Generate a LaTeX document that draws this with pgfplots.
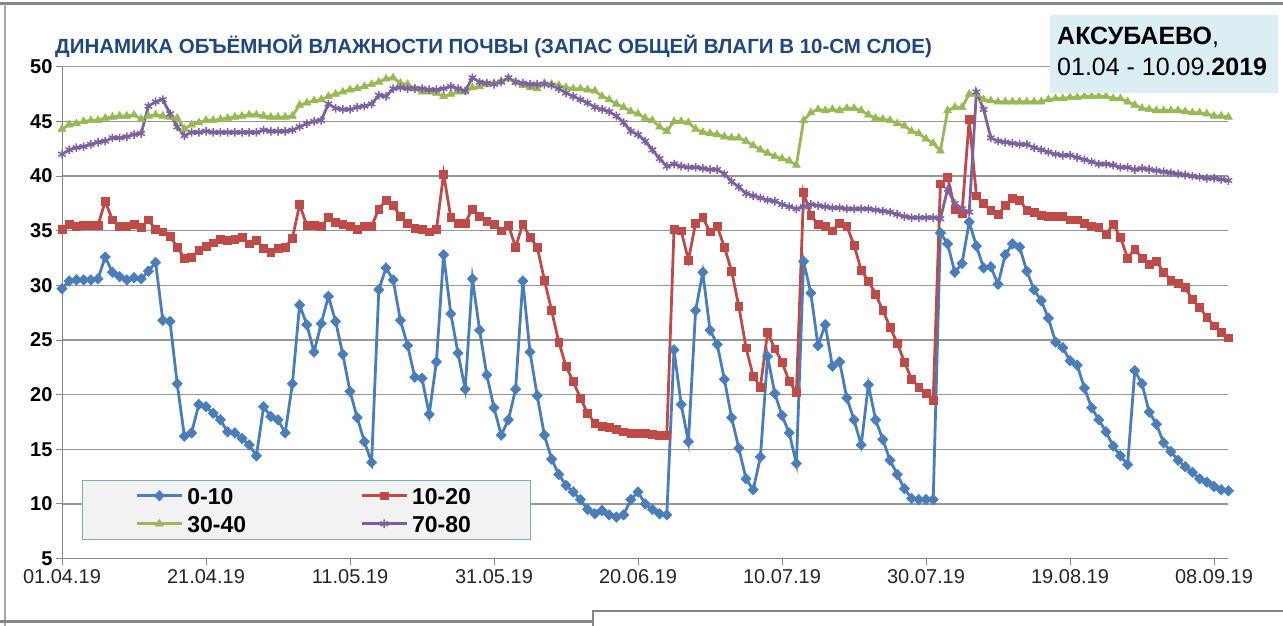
\documentclass[border=0pt]{standalone}
\usepackage{pgfplots}
\pgfplotsset{compat=1.18}
\usepackage{pgfplotstable}
\usepackage{fontspec}
\setmainfont{Liberation Sans}
\definecolor{cblue}{RGB}{74,126,187}
\definecolor{cred}{RGB}{190,75,72}
\definecolor{cgreen}{RGB}{152,185,84}
\definecolor{cpurple}{RGB}{125,96,160}
\definecolor{axgray}{RGB}{134,134,134}
\definecolor{gridgray}{RGB}{150,150,150}
\definecolor{titleblue}{RGB}{31,73,125}
\definecolor{boxblue}{RGB}{218,238,243}
\definecolor{legfill}{RGB}{242,242,242}
\definecolor{legdraw}{RGB}{120,175,192}

\pgfplotstableread{
d s1 s2 s3 s4
0 29.7 35.1 44.3 42.0
1 30.4 35.6 44.7 42.4
2 30.5 35.4 44.8 42.6
3 30.5 35.5 45.0 42.7
4 30.5 35.5 45.1 42.9
5 30.6 35.5 45.1 43.1
6 32.6 37.7 45.3 43.2
7 31.2 36.0 45.4 43.5
8 30.8 35.4 45.5 43.5
9 30.5 35.4 45.5 43.6
10 30.7 35.6 45.6 43.8
11 30.6 35.3 45.2 43.9
12 31.3 36.0 45.5 46.4
13 32.1 35.1 45.6 46.8
14 26.8 34.9 45.5 47.0
15 26.7 34.5 45.4 45.7
16 21.0 33.5 45.3 44.5
17 16.2 32.5 44.3 43.7
18 16.5 32.6 44.7 44.0
19 19.1 33.2 44.9 44.0
20 18.9 33.6 45.1 44.1
21 18.3 33.9 45.1 44.0
22 17.7 34.2 45.2 44.0
23 16.6 34.1 45.3 44.0
24 16.5 34.2 45.4 44.0
25 16.0 34.4 45.5 44.0
26 15.4 33.8 45.6 44.0
27 14.4 34.1 45.6 44.0
28 18.9 33.4 45.5 44.2
29 18.0 33.0 45.4 44.1
30 17.7 33.4 45.4 44.1
31 16.5 33.5 45.4 44.1
32 21.0 34.3 45.5 44.2
33 28.2 37.4 46.5 44.5
34 26.4 35.5 46.7 44.8
35 23.9 35.5 46.9 45.0
36 26.5 35.4 47.0 45.1
37 29.0 36.2 47.3 46.6
38 26.7 35.8 47.5 46.2
39 23.7 35.6 47.7 46.1
40 20.3 35.4 47.9 46.1
41 17.9 35.1 48.0 46.3
42 15.7 35.4 48.2 46.4
43 13.8 35.4 48.4 46.6
44 29.6 37.0 48.6 47.4
45 31.6 37.8 48.9 47.3
46 30.5 37.3 49.0 48.0
47 26.8 36.3 48.5 48.1
48 24.5 35.7 48.4 48.0
49 21.6 35.2 48.0 48.0
50 21.5 35.1 47.7 48.0
51 18.2 34.9 47.7 47.9
52 23.0 35.1 47.6 47.9
53 32.8 40.2 47.3 48.0
54 27.4 36.2 47.5 48.2
55 23.8 35.7 47.7 48.0
56 20.5 35.7 47.7 47.8
57 30.6 37.0 48.1 49.0
58 25.9 36.3 48.2 48.6
59 21.8 35.9 48.4 48.5
60 18.8 35.6 48.5 48.4
61 16.3 35.0 48.7 48.6
62 17.7 35.5 48.9 49.0
63 20.5 33.5 48.6 48.6
64 30.4 35.6 48.3 48.5
65 23.9 34.4 48.1 48.4
66 19.9 33.5 48.0 48.4
67 16.3 30.5 48.5 48.4
68 14.1 27.7 48.4 48.3
69 12.7 24.8 48.3 48.0
70 11.7 22.6 48.1 47.6
71 11.1 21.2 48.0 47.3
72 10.4 19.7 48.0 47.0
73 9.5 18.3 47.9 46.7
74 9.1 17.4 47.8 46.3
75 9.4 17.1 47.3 46.1
76 9.0 17.0 47.0 45.9
77 8.8 16.8 46.6 45.5
78 9.0 16.6 46.3 44.9
79 10.4 16.5 45.9 44.1
80 11.1 16.5 45.7 43.8
81 10.0 16.5 45.3 43.2
82 9.5 16.4 45.1 42.4
83 9.1 16.3 44.5 41.6
84 9.0 16.3 44.1 40.9
85 24.1 35.1 45.0 41.1
86 19.1 35.0 45.0 40.9
87 15.7 32.3 44.9 40.8
88 27.7 35.7 44.3 40.8
89 31.2 36.2 44.0 40.7
90 25.9 34.9 43.9 40.6
91 24.6 35.4 43.8 40.6
92 21.4 33.5 43.6 40.2
93 17.9 31.3 43.5 39.5
94 15.1 28.1 43.5 39.0
95 12.3 24.3 43.2 38.4
96 11.3 21.7 42.8 38.2
97 14.3 20.7 42.4 38.0
98 23.5 25.7 42.1 37.8
99 20.1 24.2 41.8 37.7
100 18.1 23.0 41.6 37.4
101 16.5 21.2 41.4 37.2
102 13.7 20.2 41.0 37.0
103 32.2 38.5 45.1 37.2
104 29.3 36.4 45.8 37.4
105 24.5 35.6 46.1 37.3
106 26.4 35.4 46.0 37.2
107 22.6 35.0 46.1 37.1
108 23.0 35.7 46.0 37.1
109 19.7 35.4 46.2 37.0
110 17.7 33.7 46.2 37.0
111 15.4 31.4 46.0 37.0
112 20.9 30.4 45.6 37.0
113 17.7 29.2 45.3 36.9
114 15.9 27.7 45.2 36.8
115 14.0 26.2 45.1 36.7
116 12.7 24.7 44.8 36.5
117 11.4 23.0 44.6 36.3
118 10.5 21.4 44.1 36.2
119 10.4 20.7 43.9 36.2
120 10.4 20.1 43.4 36.2
121 10.4 19.5 43.0 36.2
122 34.8 39.3 42.3 36.1
123 33.8 39.9 46.0 38.8
124 31.2 37.0 46.3 37.5
125 32.0 36.6 46.3 37.0
126 35.8 45.2 47.5 36.7
127 33.6 38.2 47.5 47.7
128 31.6 37.5 47.0 46.1
129 31.7 36.9 46.9 43.5
130 30.1 36.5 46.8 43.2
131 32.8 37.3 46.8 43.1
132 33.8 38.0 46.8 43.0
133 33.5 37.8 46.8 42.9
134 31.3 36.9 46.8 42.9
135 29.6 36.7 46.8 42.6
136 28.6 36.4 46.8 42.4
137 27.0 36.3 47.0 42.2
138 24.8 36.3 47.1 42.0
139 24.3 36.3 47.1 41.9
140 23.1 36.0 47.2 41.9
141 22.7 36.0 47.2 41.7
142 20.6 35.7 47.3 41.5
143 18.8 35.4 47.3 41.3
144 17.7 35.3 47.3 41.1
145 16.6 34.7 47.3 41.1
146 15.3 35.6 47.1 41.0
147 14.4 34.4 47.1 40.8
148 13.6 32.5 46.8 40.8
149 22.2 33.3 46.5 40.6
150 21.0 32.5 46.2 40.7
151 18.4 31.9 46.1 40.6
152 17.3 32.2 46.0 40.5
153 15.6 31.2 46.0 40.4
154 14.8 30.5 46.0 40.3
155 14.0 30.2 46.0 40.2
156 13.4 29.8 45.9 40.1
157 12.9 28.7 45.8 40.0
158 12.3 28.0 45.8 39.9
159 12.0 27.1 45.7 39.8
160 11.6 26.3 45.5 39.8
161 11.3 25.7 45.5 39.7
162 11.2 25.2 45.4 39.6
}\soildata

\begin{document}
\begin{tikzpicture}
\useasboundingbox (0pt,0pt) rectangle (1283pt,626pt);
\fill[white] (0pt,0pt) rectangle (1283pt,626pt);
% outer frame
\draw[draw=axgray, line width=3pt] (0pt,622pt) -- (1283pt,622pt);
\draw[draw=axgray!70, line width=1.2pt] (5pt,0pt) -- (5pt,622pt);
\draw[draw=axgray, line width=3pt] (0pt,4pt) -- (593pt,4pt);
\draw[draw=axgray, line width=1.2pt] (593pt,-5pt) rectangle (1290pt,15pt);

\begin{axis}[
  scale only axis,
  width=1166.4pt, height=491.8pt,
  at={(62pt,67.4pt)}, anchor=south west,
  xmin=0, xmax=162, ymin=5, ymax=50,
  axis x line*=bottom, axis y line*=left,
  axis line style={draw=axgray, line width=1pt},
  xtick={0,20,...,160},
  xticklabels={01.04.19,21.04.19,11.05.19,31.05.19,20.06.19,10.07.19,30.07.19,19.08.19,08.09.19},
  ytick={5,10,...,50},
  ymajorgrids,
  grid style={draw=gridgray, line width=1.2pt},
  tick style={draw=axgray, line width=1pt},
  major tick length=6pt,
  tick align=outside,
  /pgf/number format/assume math mode=true,
  xticklabel style={font=\fontsize{20}{20}\selectfont, text=black!85, yshift=-1.5pt},
  yticklabel style={font=\fontsize{20}{20}\selectfont\bfseries, text=black},
  legend columns=2,
  legend cell align=left,
  legend style={
    at={(0.01715,0.0378)}, anchor=south west,
    fill=legfill, draw=legdraw, line width=1pt,
    font=\fontsize{23}{23}\selectfont\bfseries,
    inner xsep=53pt, inner ysep=5.5pt,
    row sep=7.5pt,
    nodes={inner xsep=2pt, inner ysep=2pt, text height=16.5pt, text depth=0pt, text width=63pt},
    /tikz/every odd column/.append style={column sep=2pt},
    /tikz/every even column/.append style={column sep=108pt},
  },
  legend image code/.code={
    \draw[mark repeat=2,mark phase=2,#1] plot coordinates {(0pt,0pt) (22.5pt,0pt) (45pt,0pt)};
  },
]
\addplot[cblue, line width=2.8pt, mark=diamond*, mark size=5.3pt,
  mark options={solid, fill=cblue, line width=0.5pt, xscale=1.3}]
  table[x=d, y=s1] {\soildata};
\addlegendentry{0-10}
\addplot[cred, line width=2.8pt, mark=square*, mark size=3.9pt,
  mark options={solid, fill=cred, line width=0.5pt}]
  table[x=d, y=s2] {\soildata};
\addlegendentry{10-20}
\addplot[cgreen, line width=2.8pt, mark=triangle*, mark size=4.6pt,
  mark options={solid, fill=cgreen, line width=0.5pt}]
  table[x=d, y=s3] {\soildata};
\addlegendentry{30-40}
\addplot[cpurple, line width=2.8pt, mark=asterisk, mark size=4.3pt,
  mark options={solid, line width=1.5pt}]
  table[x=d, y=s4] {\soildata};
\addlegendentry{70-80}
\end{axis}

% title
\node[anchor=west, inner sep=0pt, text=titleblue, font=\fontsize{20.5}{21}\selectfont\bfseries]
  at (55pt,580pt) {ДИНАМИКА ОБЪЁМНОЙ ВЛАЖНОСТИ ПОЧВЫ (ЗАПАС ОБЩЕЙ ВЛАГИ В 10-СМ СЛОЕ)};
% place box
\fill[boxblue] (1050pt,533pt) rectangle (1278pt,611pt);
\node[anchor=west, inner sep=0pt, font=\fontsize{25}{25}\selectfont] at (1057pt,589pt) {\textbf{АКСУБАЕВО},};
\node[anchor=west, inner sep=0pt, font=\fontsize{25}{25}\selectfont] at (1057pt,559pt) {01.04 - 10.09.\textbf{2019}};
\end{tikzpicture}
\end{document}
